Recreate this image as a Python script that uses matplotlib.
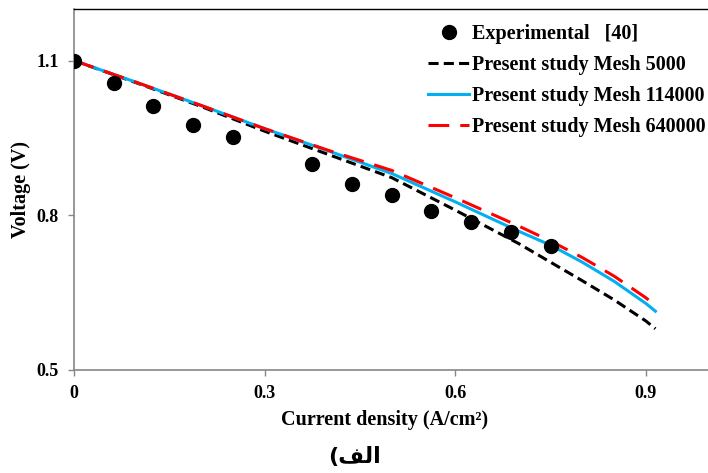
import numpy as np
import matplotlib
matplotlib.use('Agg')
import matplotlib.pyplot as plt

plt.rcParams['font.family'] = ['Liberation Serif', 'DejaVu Sans']
plt.rcParams['font.weight'] = 'bold'

# experimental data [40]
exp_x = [0, 0.0625, 0.125, 0.1875, 0.25, 0.375, 0.4375, 0.5, 0.5625, 0.625, 0.6875, 0.75]
exp_v = [1.1, 1.056, 1.011, 0.976, 0.951, 0.899, 0.860, 0.839, 0.809, 0.787, 0.767, 0.740]

# present study, three meshes
sim_x = [0, 0.1, 0.2, 0.3, 0.4, 0.5, 0.6, 0.7, 0.75, 0.8, 0.85, 0.9, 0.915]
mesh_5000 = [1.1, 1.056, 1.011, 0.963, 0.918, 0.873, 0.810, 0.745, 0.709, 0.673, 0.636, 0.595, 0.580]
mesh_114000 = [1.1, 1.057, 1.013, 0.968, 0.925, 0.881, 0.826, 0.769, 0.742, 0.709, 0.672, 0.629, 0.614]
mesh_640000 = [1.1, 1.057, 1.013, 0.968, 0.926, 0.887, 0.834, 0.779, 0.750, 0.718, 0.682, 0.640, 0.625]

xticks = [0, 0.3, 0.6, 0.9]
yticks = [0.5, 0.8, 1.1]

fig = plt.figure(figsize=(7.08, 4.73), dpi=100)
ax = fig.add_axes([0.1045, 0.2178, 0.8975, 0.7632])

ax.plot(exp_x, exp_v, 'o', color='black', markersize=10, label='Experimental   [40]', zorder=5)
ax.plot(sim_x, mesh_5000, color='black', lw=2.2, dashes=(3.3, 1.7), label='Present study Mesh 5000')
ax.plot(sim_x, mesh_114000, color='#00B0F0', lw=2.2, label='Present study Mesh 114000')
ax.plot(sim_x, mesh_640000, color='#FF0000', lw=2.2, dashes=(6.8, 3.6), label='Present study Mesh 640000')

ax.set_xlim(0, 1.0)
ax.set_ylim(0.5, 1.2)
ax.set_xticks(xticks)
ax.set_xticklabels(['0', '0.3', '0.6', '0.9'])
ax.set_yticks(yticks)

for s in ['left', 'bottom']:
    ax.spines[s].set_color('#868686')
    ax.spines[s].set_linewidth(1.2)
ax.spines['top'].set_color('black')
ax.spines['top'].set_linewidth(1.0)
ax.spines['right'].set_visible(False)
ax.tick_params(direction='out', length=4, width=1, color='#868686', labelsize=13, pad=7)

ax.set_xlabel('Current density (A/cm²)', fontsize=14.5, fontweight='bold', labelpad=4)
ax.xaxis.set_label_coords(0.489, -0.111)
ax.set_ylabel('Voltage (V)', fontsize=14.5, fontweight='bold', labelpad=4)

ax.legend(loc='upper right', bbox_to_anchor=(1.0, 0.97), frameon=False,
          handlelength=2.0, handletextpad=0.15, labelspacing=0.55, borderaxespad=0.0,
          borderpad=0.2, prop={'weight': 'bold', 'size': 14.5})

# "الف)" written in presentation forms, visual order (no RTL shaping in matplotlib)
fig.text(0.5, 0.034, '(\ufed2\ufedf\ufe8d', ha='center', va='center', fontsize=16,
         fontweight='bold', family='DejaVu Sans')

fig.savefig('out.png', dpi=100)
